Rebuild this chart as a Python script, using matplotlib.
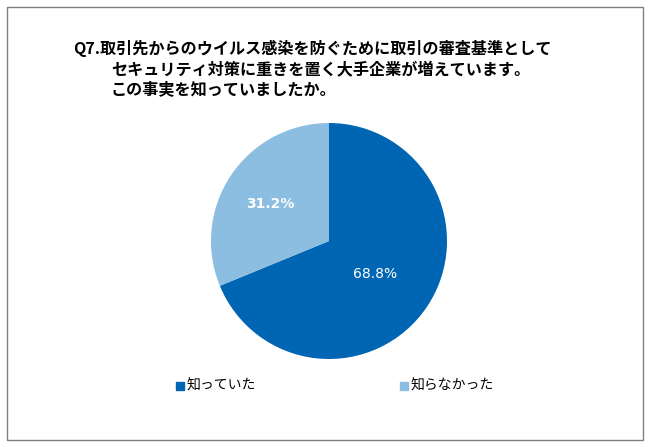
import numpy as np
import matplotlib
matplotlib.use("Agg")
import matplotlib.pyplot as plt
from matplotlib.patches import Rectangle

plt.rcParams['font.family'] = ['Noto Sans CJK JP', 'DejaVu Sans']

# --- data ---
labels = ["知っていた", "知らなかった"]
values = [68.8, 31.2]
colors = ["#0066b3", "#8bbee0"]
title_lines = [
    "Q7.取引先からのウイルス感染を防ぐために取引の審査基準として",
    "セキュリティ対策に重きを置く大手企業が増えています。",
    "この事実を知っていましたか。",
]

fig = plt.figure(figsize=(6.5, 4.47), dpi=100)

# frame around the whole figure
fig.patches.append(Rectangle((7 / 650, 7 / 447), 636 / 650, 433 / 447,
                             transform=fig.transFigure, fill=False,
                             edgecolor="#808080", linewidth=1))

# title
fig.text(73 / 650, 1 - 48 / 447, title_lines[0], fontsize=11.6, fontweight="bold",
         va="center", ha="left")
fig.text(111 / 650, 1 - 70 / 447, title_lines[1], fontsize=11.6, fontweight="bold",
         va="center", ha="left")
fig.text(111 / 650, 1 - 89 / 447, title_lines[2], fontsize=11.6, fontweight="bold",
         va="center", ha="left")

ax = fig.add_axes([211 / 650, 88 / 447, 236 / 650, 236 / 447])
wedges, _ = ax.pie(values, colors=colors, startangle=90, counterclock=False,
                   wedgeprops=dict(linewidth=0))
ax.set_xlim(-1, 1)
ax.set_ylim(-1, 1)
ax.set_aspect("equal")

# percentage labels
dists = [0.47, 0.6]
weights = ["normal", "bold"]
for w, v, d, fw in zip(wedges, values, dists, weights):
    ang = np.deg2rad((w.theta1 + w.theta2) / 2)
    ax.text(d * np.cos(ang), d * np.sin(ang) - 0.02, f"{v}%", color="white",
            fontsize=10, fontweight=fw, ha="center", va="center",
            family=["DejaVu Sans"])

# legend
for x, lab, c in zip([176, 400], labels, colors):
    fig.patches.append(Rectangle((x / 650, 1 - 390 / 447), 8 / 650, 8 / 447,
                                 transform=fig.transFigure, color=c))
    fig.text((x + 11) / 650, 1 - 386 / 447, lab, fontsize=10, va="center",
             ha="left")

fig.savefig("out.png", dpi=100)
